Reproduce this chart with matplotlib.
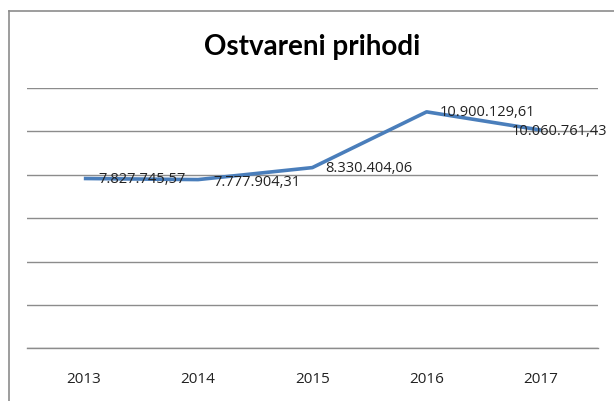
import matplotlib
matplotlib.use("Agg")
import matplotlib.pyplot as plt
from matplotlib.lines import Line2D

years = ["2013", "2014", "2015", "2016", "2017"]
revenue = [7827745.57, 7777904.31, 8330404.06, 10900129.61, 10060761.43]
value_labels = ["7.827.745,57", "7.777.904,31", "8.330.404,06", "10.900.129,61", "10.060.761,43"]
y_ticks = [0, 2000000, 4000000, 6000000, 8000000, 10000000, 12000000]

W, H = 614, 401
fig = plt.figure(figsize=(W / 100, H / 100), dpi=100)
fig.patch.set_facecolor("white")

FONT = ["Open Sans", "DejaVu Sans"]
TITLE_FONT = ["Lato", "DejaVu Sans"]

# outer chart frame (left and top visible)
fig.add_artist(Line2D([8.5 / W, 8.5 / W], [0, 1 - 10.7 / H], transform=fig.transFigure,
                      color="#8c8c8c", lw=1.2))
fig.add_artist(Line2D([8.5 / W, 1.0], [1 - 10.7 / H, 1 - 10.7 / H], transform=fig.transFigure,
                      color="#8c8c8c", lw=1.2))

left, right = 26.7 / W, 598 / W
bottom, top = 1 - 348.3 / H, 1 - 88 / H
ax = fig.add_axes([left, bottom, right - left, top - bottom])
x = list(range(len(years)))
ax.plot(x, revenue, color="#4a7ebb", lw=2.6, solid_capstyle="butt", zorder=3)
ax.set_xlim(-0.5, len(years) - 0.5)
ax.set_ylim(y_ticks[0], y_ticks[-1])
ax.set_yticks(y_ticks)
ax.set_yticklabels([])
ax.tick_params(axis="y", length=0)
ax.yaxis.grid(True, color="#8c8c8c", lw=1.0)
ax.set_axisbelow(True)
ax.set_xticks(x)
ax.set_xticklabels(years, family=FONT, fontsize=11, color="#222222")
ax.tick_params(axis="x", length=0, pad=17)
for s in ["left", "right", "top"]:
    ax.spines[s].set_visible(False)
ax.spines["bottom"].set_color("#8c8c8c")
ax.spines["bottom"].set_linewidth(1.0)

offsets = [(15, -1), (15, -3), (13, -1), (13, -1), (-29, -1)]
for xi, yi, lab, off in zip(x, revenue, value_labels, offsets):
    ax.annotate(lab, (xi, yi), xytext=off, textcoords="offset pixels",
                ha="left", va="center", family=FONT, fontsize=10.5, color="#222222",
                annotation_clip=False, zorder=4)

fig.text(312.5 / W, 1 - 47 / H, "Ostvareni prihodi", ha="center", va="center",
         family=TITLE_FONT, fontsize=20, fontweight="bold", color="black")

fig.savefig("out.png", dpi=100)
